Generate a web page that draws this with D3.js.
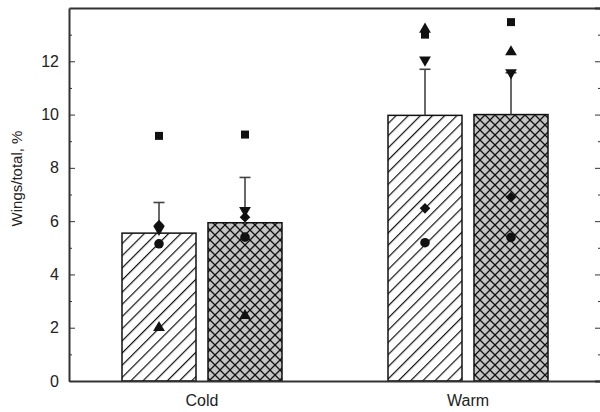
<!DOCTYPE html>
<html>
<head>
<meta charset="utf-8">
<script src="https://cdn.jsdelivr.net/npm/d3@7"></script>
<style>
  body { margin: 0; background: #fff; }
  svg { display: block; font-family: "Liberation Sans", Arial, sans-serif; }
  .axis text { fill: #222; font-size: 16px; }
  .axis path, .axis line { stroke: #333; }
</style>
</head>
<body>
<div id="chart"></div>
<script>
// categories and bar order (hatched bar first, cross-hatched second)
const categories = ['Cold', 'Warm'];
const treatments = ['hatch', 'cross'];
const barCategory = ['Cold', 'Cold', 'Warm', 'Warm'];
const barTreatment = ['hatch', 'cross', 'hatch', 'cross'];
const meanValues = [5.55, 5.94, 9.97, 10.0];
const errorValues = [1.15, 1.70, 1.73, 1.57];

// individual points per bar
const squareValues = [9.2, 9.25, 13.0, 13.47];
const triUpValues = [2.0, 2.45, 13.2, 12.35];
const triDownValues = [5.7, 6.4, 12.05, 11.57];
const diamondValues = [5.85, 6.15, 6.48, 6.9];
const circleValues = [5.15, 5.4, 5.19, 5.39];

const yMajorTicks = [0, 2, 4, 6, 8, 10, 12];
const yMinorTicks = [1, 3, 5, 7, 9, 11, 13];
const yLabel = 'Wings/total, %';

const width = 600, height = 412;
const margin = { top: 8, left: 69, right: 601, bottom: 381 };

const svg = d3.select('#chart').append('svg')
  .attr('width', width)
  .attr('height', height);

const defs = svg.append('defs');

// "/" hatch
const hatch = defs.append('pattern')
  .attr('id', 'hatch')
  .attr('patternUnits', 'userSpaceOnUse')
  .attr('width', 8.6)
  .attr('height', 8.6)
  .attr('patternTransform', 'rotate(45)');
hatch.append('rect').attr('width', 8.6).attr('height', 8.6).attr('fill', '#fff');
hatch.append('line')
  .attr('x1', 0).attr('y1', 0).attr('x2', 0).attr('y2', 8.6)
  .attr('stroke', '#111').attr('stroke-width', 2.4);

// cross hatch on grey
const cross = defs.append('pattern')
  .attr('id', 'cross')
  .attr('patternUnits', 'userSpaceOnUse')
  .attr('width', 10)
  .attr('height', 10);
cross.append('rect').attr('width', 10).attr('height', 10).attr('fill', '#c4c4c4');
cross.append('path')
  .attr('d', 'M0,0L10,10M0,10L10,0')
  .attr('stroke', '#111').attr('stroke-width', 1.3);

const x = d3.scaleBand()
  .domain(categories)
  .range([margin.left, margin.right]);

const xInner = d3.scaleBand()
  .domain(treatments)
  .range([-80, 80])
  .paddingInner(0.1395);

const y = d3.scaleLinear()
  .domain([0, 14])
  .range([margin.bottom, margin.top]);

const barX = i => x(barCategory[i]) + x.bandwidth() / 2 + xInner(barTreatment[i]);
const barMid = i => barX(i) + xInner.bandwidth() / 2;

// bars
svg.append('g').selectAll('rect')
  .data(meanValues)
  .join('rect')
  .attr('x', (d, i) => barX(i))
  .attr('y', d => y(d))
  .attr('width', xInner.bandwidth())
  .attr('height', d => y(0) - y(d))
  .attr('fill', (d, i) => `url(#${barTreatment[i]})`)
  .attr('stroke', '#111')
  .attr('stroke-width', 1.5);

// error bars (upper only)
const err = svg.append('g').attr('stroke', '#444').attr('stroke-width', 1.6);
meanValues.forEach((m, i) => {
  const cx = barMid(i);
  err.append('line')
    .attr('x1', cx).attr('x2', cx)
    .attr('y1', y(m)).attr('y2', y(m + errorValues[i]));
  err.append('line')
    .attr('x1', cx - 5.5).attr('x2', cx + 5.5)
    .attr('y1', y(m + errorValues[i])).attr('y2', y(m + errorValues[i]));
});

// points
const series = [
  { values: circleValues, type: d3.symbolCircle, size: 72, rot: 0 },
  { values: diamondValues, type: d3.symbolSquare, size: 56, rot: 45 },
  { values: triDownValues, type: d3.symbolTriangle, size: 60, rot: 180 },
  { values: squareValues, type: d3.symbolSquare, size: 64, rot: 0 },
  { values: triUpValues, type: d3.symbolTriangle, size: 60, rot: 0 }
];
const pts = svg.append('g').attr('fill', '#111');
series.forEach(s => {
  const sym = d3.symbol().type(s.type).size(s.size);
  pts.selectAll(null)
    .data(s.values)
    .join('path')
    .attr('d', sym)
    .attr('transform', (d, i) => `translate(${barMid(i)},${y(d)}) rotate(${s.rot})`);
});

// left axis, ticks inward
svg.append('g')
  .attr('class', 'axis')
  .attr('transform', `translate(${margin.left},0)`)
  .call(d3.axisLeft(y).tickValues(yMajorTicks).tickSizeInner(-6).tickSizeOuter(0).tickPadding(10))
  .call(g => g.select('.domain').attr('stroke-width', 2));

svg.append('g')
  .attr('class', 'axis')
  .attr('transform', `translate(${margin.left},0)`)
  .call(d3.axisLeft(y).tickValues(yMinorTicks).tickSize(-3).tickFormat(''))
  .call(g => g.select('.domain').remove());

// right axis (mostly off-canvas), ticks inward
svg.append('g')
  .attr('class', 'axis')
  .attr('transform', `translate(${margin.right},0)`)
  .call(d3.axisLeft(y).tickValues(yMajorTicks).tickSize(6).tickFormat(''))
  .call(g => g.select('.domain').attr('stroke-width', 2));

svg.append('g')
  .attr('class', 'axis')
  .attr('transform', `translate(${margin.right},0)`)
  .call(d3.axisLeft(y).tickValues(yMinorTicks).tickSize(3).tickFormat(''))
  .call(g => g.select('.domain').remove());

// bottom axis
svg.append('g')
  .attr('class', 'axis')
  .attr('transform', `translate(0,${margin.bottom})`)
  .call(d3.axisBottom(x).tickSize(0).tickPadding(14))
  .call(g => g.select('.domain').attr('stroke-width', 2));

// top frame
svg.append('g')
  .attr('class', 'axis')
  .attr('transform', `translate(0,${margin.top})`)
  .call(d3.axisTop(x).tickSize(0).tickFormat(''))
  .call(g => g.select('.domain').attr('stroke-width', 2));

svg.append('text')
  .attr('transform', `translate(22,${y(7.6)}) rotate(-90)`)
  .attr('text-anchor', 'middle')
  .attr('fill', '#222')
  .style('font-size', '15px')
  .text(yLabel);
</script>
</body>
</html>
